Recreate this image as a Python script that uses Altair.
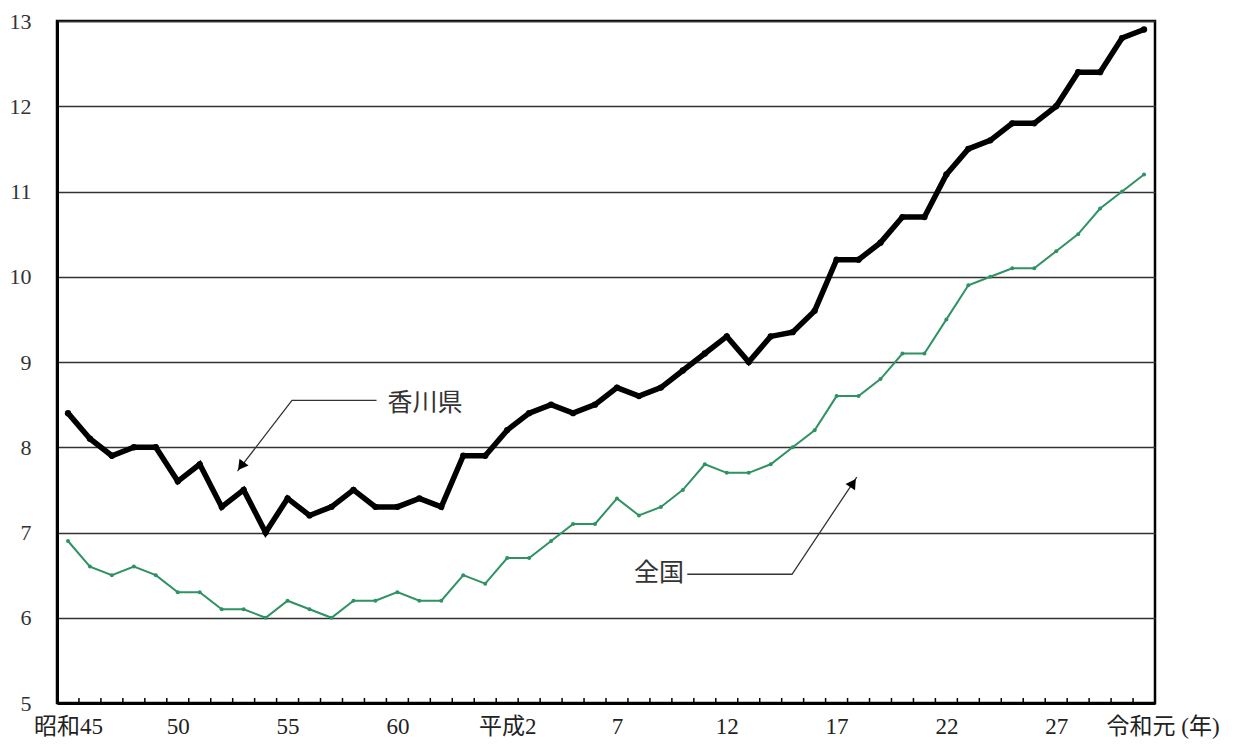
import altair as alt
import pandas as pd

# ---- data ----
years = [1970, 1971, 1972, 1973, 1974, 1975, 1976, 1977, 1978, 1979,
         1980, 1981, 1982, 1983, 1984, 1985, 1986, 1987, 1988, 1989,
         1990, 1991, 1992, 1993, 1994, 1995, 1996, 1997, 1998, 1999,
         2000, 2001, 2002, 2003, 2004, 2005, 2006, 2007, 2008, 2009,
         2010, 2011, 2012, 2013, 2014, 2015, 2016, 2017, 2018, 2019]

kagawa = [8.4, 8.1, 7.9, 8.0, 8.0, 7.6, 7.8, 7.3, 7.5, 7.0,
          7.4, 7.2, 7.3, 7.5, 7.3, 7.3, 7.4, 7.3, 7.9, 7.9,
          8.2, 8.4, 8.5, 8.4, 8.5, 8.7, 8.6, 8.7, 8.9, 9.1,
          9.3, 9.0, 9.3, 9.35, 9.6, 10.2, 10.2, 10.4, 10.7, 10.7,
          11.2, 11.5, 11.6, 11.8, 11.8, 12.0, 12.4, 12.4, 12.8, 12.9]

national = [6.9, 6.6, 6.5, 6.6, 6.5, 6.3, 6.3, 6.1, 6.1, 6.0,
            6.2, 6.1, 6.0, 6.2, 6.2, 6.3, 6.2, 6.2, 6.5, 6.4,
            6.7, 6.7, 6.9, 7.1, 7.1, 7.4, 7.2, 7.3, 7.5, 7.8,
            7.7, 7.7, 7.8, 8.0, 8.2, 8.6, 8.6, 8.8, 9.1, 9.1,
            9.5, 9.9, 10.0, 10.1, 10.1, 10.3, 10.5, 10.8, 11.0, 11.2]

tick_years = [1970, 1975, 1980, 1985, 1990, 1995, 2000, 2005, 2010, 2015, 2019]
tick_labels = ["昭和45", "50", "55", "60", "平成2", "7", "12", "17", "22", "27", "令和元 (年)"]
y_ticks = [5, 6, 7, 8, 9, 10, 11, 12, 13]

# annotations (in data units)
kagawa_label = "香川県"
kagawa_label_pos = [1984.55, 8.52]
kagawa_arrow_x = [1984.05, 1980.2, 1977.72]
kagawa_arrow_y = [8.55, 8.55, 7.72]
kagawa_head = [1977.88, 7.78, 217]

national_label = "全国"
national_label_pos = [1998.05, 6.525]
national_arrow_x = [1998.2, 2002.97, 2005.92]
national_arrow_y = [6.51, 6.51, 7.65]
national_head = [2005.75, 7.58, 34]

W, H = 1098, 682
FONT = "Liberation Serif, Noto Sans CJK JP"
CJK = "Noto Sans CJK JP"
GREEN = "#2f9263"

df_k = pd.DataFrame({"year": years, "value": kagawa})
df_n = pd.DataFrame({"year": years, "value": national})
df_ticks = pd.DataFrame({"year": [y + 0.5 for y in years[:-1]]})

label_expr = " : ".join(
    [f"datum.value == {y} ? '{t}'" for y, t in zip(tick_years, tick_labels)]
) + " : ''"

xscale = alt.Scale(domain=[1969.5, 2019.5], nice=False, zero=False)
yscale = alt.Scale(domain=[5, 13], nice=False, zero=False)

x_axis = alt.Axis(
    values=tick_years, labelExpr=label_expr, title=None, grid=False, ticks=False,
    domainColor="black", domainWidth=3, labelFont=FONT, labelFontSize=23,
    labelColor="#222", labelPadding=12, labelOverlap=False, labelFlush=False,
    labelAlign={"condition": {"test": "datum.value == 2019", "value": "left"}, "value": "center"},
    labelOffset={"condition": {"test": "datum.value == 2019", "value": -38}, "value": 0},
)
y_axis = alt.Axis(
    values=y_ticks, title=None, grid=True, gridColor="#333", gridWidth=1.5,
    ticks=False, domainColor="black", domainWidth=3, labelFont=FONT,
    labelFontSize=22, labelColor="#333", labelPadding=26,
)

X = alt.X("year:Q", scale=xscale, axis=x_axis, title=None)
Y = alt.Y("value:Q", scale=yscale, axis=y_axis, title=None)

ticks = alt.Chart(df_ticks).mark_rule(color="black", strokeWidth=1.5).encode(
    x=X, y=alt.value(H), y2=alt.value(H - 5),
)

line_n = alt.Chart(df_n).mark_line(
    color=GREEN, strokeWidth=2,
    point=alt.OverlayMarkDef(filled=True, size=16, color=GREEN),
).encode(x=X, y=Y)

line_k = alt.Chart(df_k).mark_line(
    color="black", strokeWidth=5.5, strokeJoin="miter",
    point=alt.OverlayMarkDef(filled=True, size=40, color="black"),
).encode(x=X, y=Y)

arrows_df = pd.DataFrame({
    "year": kagawa_arrow_x + national_arrow_x,
    "value": kagawa_arrow_y + national_arrow_y,
    "grp": ["k"] * 3 + ["n"] * 3,
    "ord": [0, 1, 2] * 2,
})
arrows = alt.Chart(arrows_df).mark_line(color="#333", strokeWidth=1.3).encode(
    x=X, y=Y, detail="grp:N", order="ord:Q",
)

heads_df = pd.DataFrame({
    "year": [kagawa_head[0], national_head[0]],
    "value": [kagawa_head[1], national_head[1]],
    "ang": [kagawa_head[2], national_head[2]],
})
heads = alt.Chart(heads_df).mark_point(
    shape="triangle-up", filled=True, color="black", size=130, opacity=1,
).encode(x=X, y=Y, angle=alt.Angle("ang:Q", scale=None))

lab_k = alt.Chart(pd.DataFrame({"year": [kagawa_label_pos[0]], "value": [kagawa_label_pos[1]], "t": [kagawa_label]})).mark_text(
    font=CJK, fontSize=25, color="#333", align="left", baseline="middle",
).encode(x=X, y=Y, text="t:N")

lab_n = alt.Chart(pd.DataFrame({"year": [national_label_pos[0]], "value": [national_label_pos[1]], "t": [national_label]})).mark_text(
    font=CJK, fontSize=25, color="#333", align="right", baseline="middle",
).encode(x=X, y=Y, text="t:N")

chart = alt.layer(line_n, ticks, line_k, arrows, heads, lab_k, lab_n).properties(
    width=W, height=H,
    background="white",
    autosize=alt.AutoSizeParams(type="none"),
    padding={"left": 49, "top": 13, "right": 72, "bottom": 36},
).configure_view(stroke="black", strokeWidth=2.5)

chart.save("out.html", embed_options={"renderer": "svg", "actions": False})
